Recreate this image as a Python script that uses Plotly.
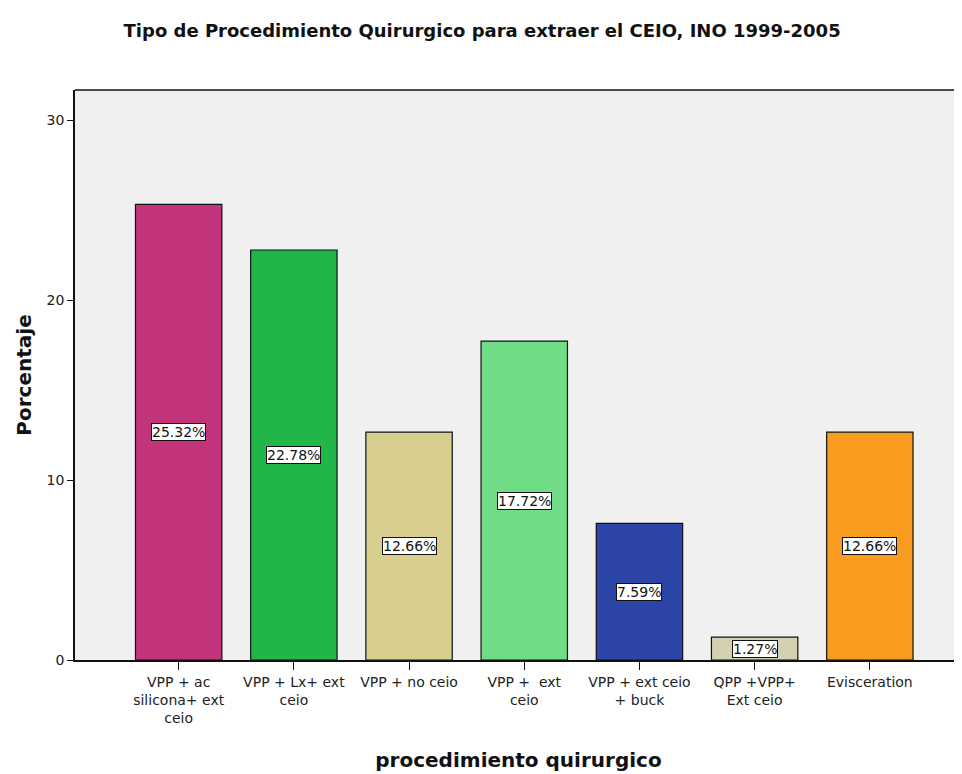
import plotly.graph_objects as go

categories = ["VPP + ac<br>silicona+ ext<br>ceio", "VPP + Lx+ ext<br>ceio", "VPP + no ceio",
              "VPP +  ext<br>ceio", "VPP + ext ceio<br>+ buck", "QPP +VPP+<br>Ext ceio", "Evisceration"]
values = [25.32, 22.78, 12.66, 17.72, 7.59, 1.27, 12.66]
labels = ["25.32%", "22.78%", "12.66%", "17.72%", "7.59%", "1.27%", "12.66%"]
colors = ["#C3357A", "#22B548", "#D8CF8E", "#70DC86", "#2C44A6", "#D3D1B2", "#F99B1E"]
y_ticks = [0, 10, 20, 30]

x_idx = list(range(len(categories)))
FONT = "DejaVu Sans"

fig = go.Figure()
fig.add_trace(go.Bar(
    x=x_idx, y=values, width=0.75,
    marker=dict(color=colors, line=dict(color="#111111", width=1.2)),
    hoverinfo="skip",
))

for i, (v, t) in enumerate(zip(values, labels)):
    fig.add_annotation(x=i, y=v / 2, text=t, showarrow=False,
                       font=dict(family=FONT, size=14, color="#111111"),
                       bgcolor="white", bordercolor="#111111", borderwidth=1, borderpad=0)

fig.update_layout(
    width=954, height=766,
    paper_bgcolor="white", plot_bgcolor="#F0F0F0",
    margin=dict(l=67, r=0, t=82, b=114),
    showlegend=False,
    title=dict(text="<b>Tipo de Procedimiento Quirurgico para extraer el CEIO, INO 1999-2005</b>",
               x=0.497, xanchor="center", y=0.971, yanchor="middle",
               font=dict(family=FONT, size=18, color="#111111")),
    xaxis=dict(range=[-0.9, 6.8], tickvals=x_idx, ticktext=categories,
               ticks="outside", ticklen=8, tickcolor="#111111", showgrid=False,
               showline=True, linecolor="#111111", linewidth=1.5, zeroline=False,
               tickfont=dict(family=FONT, size=14, color="#222222"),
               title=dict(text="<b>procedimiento quirurgico</b>", standoff=28,
                          font=dict(family=FONT, size=20, color="#111111"))),
    yaxis=dict(range=[0, 31.67], tickvals=y_ticks, ticks="outside", ticklen=6,
               tickcolor="#111111", showgrid=False, showline=True, linecolor="#111111",
               linewidth=1.5, zeroline=False, mirror=False,
               tickfont=dict(family=FONT, size=14, color="#222222"),
               title=dict(text="<b>Porcentaje</b>", standoff=10,
                          font=dict(family=FONT, size=20, color="#111111"))),
)
fig.add_shape(type="line", xref="paper", yref="paper", x0=0, x1=1, y0=1, y1=1,
              line=dict(color="#111111", width=1.5))

fig.write_html("out.html")
